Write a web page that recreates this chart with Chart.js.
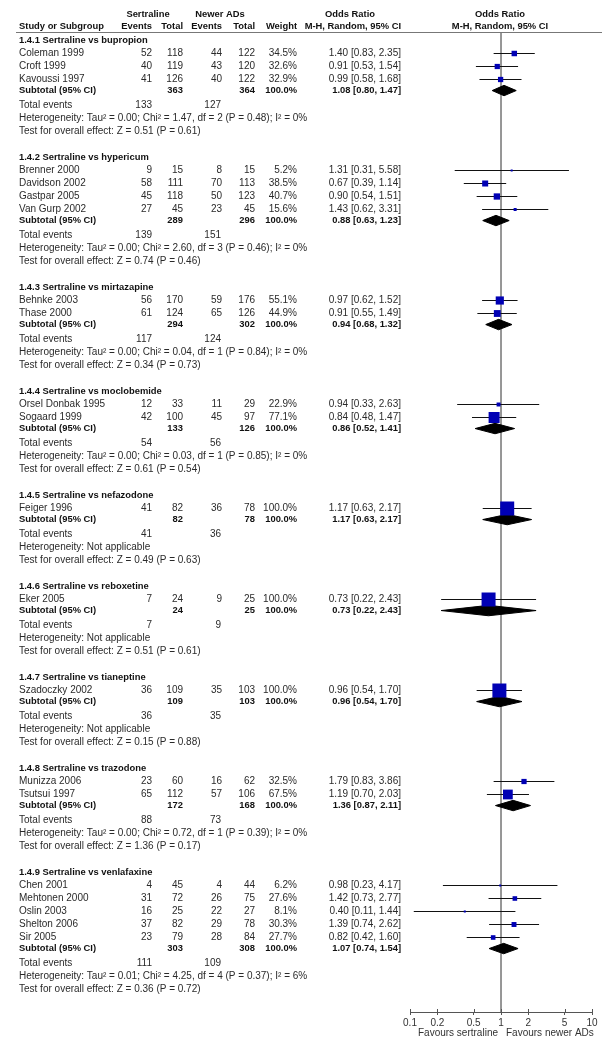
<!DOCTYPE html>
<html lang="en">

<head>
    <meta charset="UTF-8">
    <title>Sertraline vs newer ADs - forest plot</title>
    <script src="https://cdn.jsdelivr.net/npm/chart.js"></script>
    <style>
        html, body { margin: 0; padding: 0; background: #fff; }
        #wrap { position: relative; width: 610px; height: 1048px; }
    </style>
</head>

<body>
    <div id="wrap"><canvas id="forest"></canvas></div>

    <script>
        // subgroups
        const groupTitles = [
            "1.4.1 Sertraline vs bupropion", "1.4.2 Sertraline vs hypericum", "1.4.3 Sertraline vs mirtazapine",
            "1.4.4 Sertraline vs moclobemide", "1.4.5 Sertraline vs nefazodone", "1.4.6 Sertraline vs reboxetine",
            "1.4.7 Sertraline vs tianeptine", "1.4.8 Sertraline vs trazodone", "1.4.9 Sertraline vs venlafaxine"
        ];

        // one entry per study
        const studyNames = [
            "Coleman 1999", "Croft 1999", "Kavoussi 1997",
            "Brenner 2000", "Davidson 2002", "Gastpar 2005", "Van Gurp 2002",
            "Behnke 2003", "Thase 2000",
            "Orsel Donbak 1995", "Sogaard 1999",
            "Feiger 1996",
            "Eker 2005",
            "Szadoczky 2002",
            "Munizza 2006", "Tsutsui 1997",
            "Chen 2001", "Mehtonen 2000", "Oslin 2003", "Shelton 2006", "Sir 2005"
        ];
        const studyGroup = [0, 0, 0, 1, 1, 1, 1, 2, 2, 3, 3, 4, 5, 6, 7, 7, 8, 8, 8, 8, 8];
        const sertEvents = [52, 40, 41, 9, 58, 45, 27, 56, 61, 12, 42, 41, 7, 36, 23, 65, 4, 31, 16, 37, 23];
        const sertTotal = [118, 119, 126, 15, 111, 118, 45, 170, 124, 33, 100, 82, 24, 109, 60, 112, 45, 72, 25, 82, 79];
        const newEvents = [44, 43, 40, 8, 70, 50, 23, 59, 65, 11, 45, 36, 9, 35, 16, 57, 4, 26, 22, 29, 28];
        const newTotal = [122, 120, 122, 15, 113, 123, 45, 176, 126, 29, 97, 78, 25, 103, 62, 106, 44, 75, 27, 78, 84];
        const weights = [34.5, 32.6, 32.9, 5.2, 38.5, 40.7, 15.6, 55.1, 44.9, 22.9, 77.1, 100, 100, 100, 32.5, 67.5, 6.2, 27.6, 8.1, 30.3, 27.7];
        const oddsRatio = [1.40, 0.91, 0.99, 1.31, 0.67, 0.90, 1.43, 0.97, 0.91, 0.94, 0.84, 1.17, 0.73, 0.96, 1.79, 1.19, 0.98, 1.42, 0.40, 1.39, 0.82];
        const ciLow = [0.83, 0.53, 0.58, 0.31, 0.39, 0.54, 0.62, 0.62, 0.55, 0.33, 0.48, 0.63, 0.22, 0.54, 0.83, 0.70, 0.23, 0.73, 0.11, 0.74, 0.42];
        const ciHigh = [2.35, 1.54, 1.68, 5.58, 1.14, 1.51, 3.31, 1.52, 1.49, 2.63, 1.47, 2.17, 2.43, 1.70, 3.86, 2.03, 4.17, 2.77, 1.44, 2.62, 1.60];

        // subtotals per subgroup
        const subSertTotal = [363, 289, 294, 133, 82, 24, 109, 172, 303];
        const subNewTotal = [364, 296, 302, 126, 78, 25, 103, 168, 308];
        const subOR = [1.08, 0.88, 0.94, 0.86, 1.17, 0.73, 0.96, 1.36, 1.07];
        const subLow = [0.80, 0.63, 0.68, 0.52, 0.63, 0.22, 0.54, 0.87, 0.74];
        const subHigh = [1.47, 1.23, 1.32, 1.41, 2.17, 2.43, 1.70, 2.11, 1.54];
        const totSertEvents = [133, 139, 117, 54, 41, 7, 36, 88, 111];
        const totNewEvents = [127, 151, 124, 56, 36, 9, 35, 73, 109];
        const heterogeneity = [
            "Heterogeneity: Tau² = 0.00; Chi² = 1.47, df = 2 (P = 0.48); I² = 0%",
            "Heterogeneity: Tau² = 0.00; Chi² = 2.60, df = 3 (P = 0.46); I² = 0%",
            "Heterogeneity: Tau² = 0.00; Chi² = 0.04, df = 1 (P = 0.84); I² = 0%",
            "Heterogeneity: Tau² = 0.00; Chi² = 0.03, df = 1 (P = 0.85); I² = 0%",
            "Heterogeneity: Not applicable",
            "Heterogeneity: Not applicable",
            "Heterogeneity: Not applicable",
            "Heterogeneity: Tau² = 0.00; Chi² = 0.72, df = 1 (P = 0.39); I² = 0%",
            "Heterogeneity: Tau² = 0.01; Chi² = 4.25, df = 4 (P = 0.37); I² = 6%"
        ];
        const overallEffect = [
            "Test for overall effect: Z = 0.51 (P = 0.61)",
            "Test for overall effect: Z = 0.74 (P = 0.46)",
            "Test for overall effect: Z = 0.34 (P = 0.73)",
            "Test for overall effect: Z = 0.61 (P = 0.54)",
            "Test for overall effect: Z = 0.49 (P = 0.63)",
            "Test for overall effect: Z = 0.51 (P = 0.61)",
            "Test for overall effect: Z = 0.15 (P = 0.88)",
            "Test for overall effect: Z = 1.36 (P = 0.17)",
            "Test for overall effect: Z = 0.36 (P = 0.72)"
        ];

        const xTicks = [0.1, 0.2, 0.5, 1, 2, 5, 10];

        // row layout (one row = 13px)
        const studyRow = [];
        const headRow = [], subRow = [], totRow = [];
        let r = 0;
        groupTitles.forEach((t, g) => {
            headRow.push(r);
            studyGroup.forEach((sg, i) => { if (sg === g) { r++; studyRow[i] = r; } });
            subRow.push(r + 1 - 0.15);
            totRow.push(r + 2);
            r += 6;
        });
        const yMin = (32 - 40.5) / 13;
        const yMax = (1012 - 40.5) / 13;

        const FONT = "'Liberation Sans', Arial, sans-serif";
        const fmt = v => v.toFixed(2);
        const orText = (o, l, h) => `${fmt(o)} [${fmt(l)}, ${fmt(h)}]`;

        // datasets
        const datasets = [];
        datasets.push({
            data: oddsRatio.map((v, i) => ({ x: v, y: studyRow[i] })),
            pointStyle: "rect",
            pointRadius: weights.map(w => Math.max(2, 1 + 13 * w / 100) / Math.SQRT2),
            backgroundColor: "#0000b4",
            borderWidth: 0,
            showLine: false,
            order: 0
        });
        studyNames.forEach((n, i) => {
            datasets.push({
                data: [{ x: ciLow[i], y: studyRow[i] }, { x: ciHigh[i], y: studyRow[i] }],
                showLine: true, borderColor: "#111", borderWidth: 1, pointRadius: 0, order: 1
            });
        });
        groupTitles.forEach((t, g) => {
            const y = subRow[g];
            datasets.push({
                data: [
                    { x: subLow[g], y: y }, { x: subOR[g], y: y - 0.4 },
                    { x: subHigh[g], y: y }, { x: subOR[g], y: y + 0.4 }, { x: subLow[g], y: y }
                ],
                showLine: true, fill: "shape", backgroundColor: "#000", borderColor: "#000",
                borderWidth: 1, pointRadius: 0, tension: 0, order: 1
            });
        });
        datasets.push({
            data: [{ x: 1, y: yMin }, { x: 1, y: yMax }],
            showLine: true, borderColor: "#888", borderWidth: 1, pointRadius: 0, order: 2
        });

        // table text drawn beside the plot
        const tablePlugin = {
            id: "tableText",
            afterDraw(chart) {
                const ctx = chart.ctx;
                const ys = chart.scales.y;
                const xs = chart.scales.x;
                const py = row => ys.getPixelForValue(row);
                ctx.save();
                ctx.textBaseline = "middle";
                const txt = (s, x, y, align, bold) => {
                    ctx.font = (bold ? "bold 9.4px " : "10px ") + FONT;
                    ctx.fillStyle = bold ? "#111" : "#2a2a2a";
                    ctx.textAlign = align;
                    ctx.fillText(s, x, y);
                };

                // header
                txt("Sertraline", 148, 14, "center", true);
                txt("Newer ADs", 220, 14, "center", true);
                txt("Odds Ratio", 350, 14, "center", true);
                txt("Odds Ratio", 500, 14, "center", true);
                txt("Study or Subgroup", 19, 26, "left", true);
                txt("Events", 152, 26, "right", true);
                txt("Total", 183, 26, "right", true);
                txt("Events", 222, 26, "right", true);
                txt("Total", 255, 26, "right", true);
                txt("Weight", 297, 26, "right", true);
                txt("M-H, Random, 95% CI", 401, 26, "right", true);
                txt("M-H, Random, 95% CI", 500, 26, "center", true);
                ctx.strokeStyle = "#777";
                ctx.lineWidth = 1;
                ctx.beginPath();
                ctx.moveTo(16, 32.5);
                ctx.lineTo(602, 32.5);
                ctx.stroke();

                // studies
                studyNames.forEach((n, i) => {
                    const y = py(studyRow[i]);
                    txt(n, 19, y, "left");
                    txt(String(sertEvents[i]), 152, y, "right");
                    txt(String(sertTotal[i]), 183, y, "right");
                    txt(String(newEvents[i]), 222, y, "right");
                    txt(String(newTotal[i]), 255, y, "right");
                    txt(weights[i].toFixed(1) + "%", 297, y, "right");
                    txt(orText(oddsRatio[i], ciLow[i], ciHigh[i]), 401, y, "right");
                });

                // subgroups
                groupTitles.forEach((t, g) => {
                    txt(t, 19, py(headRow[g]), "left", true);
                    const ys2 = py(subRow[g]);
                    txt("Subtotal (95% CI)", 19, ys2, "left", true);
                    txt(String(subSertTotal[g]), 183, ys2, "right", true);
                    txt(String(subNewTotal[g]), 255, ys2, "right", true);
                    txt("100.0%", 297, ys2, "right", true);
                    txt(orText(subOR[g], subLow[g], subHigh[g]), 401, ys2, "right", true);
                    const yt = py(totRow[g]);
                    txt("Total events", 19, yt, "left");
                    txt(String(totSertEvents[g]), 152, yt, "right");
                    txt(String(totNewEvents[g]), 221, yt, "right");
                    txt(heterogeneity[g], 19, py(totRow[g] + 1), "left");
                    txt(overallEffect[g], 19, py(totRow[g] + 2), "left");
                });

                // upper half of the axis tick marks (they cross the axis line)
                const axisY = chart.chartArea.bottom;
                ctx.strokeStyle = "#555";
                ctx.beginPath();
                xTicks.forEach(v => {
                    const x = Math.round(xs.getPixelForValue(v)) + 0.5;
                    ctx.moveTo(x, axisY - 3);
                    ctx.lineTo(x, axisY);
                });
                ctx.stroke();

                // favours labels
                const x1 = xs.getPixelForValue(1);
                ctx.font = "10px " + FONT;
                ctx.fillStyle = "#333";
                ctx.textAlign = "right";
                ctx.fillText("Favours sertraline", x1 - 3, 1033);
                ctx.textAlign = "left";
                ctx.fillText("Favours newer ADs", x1 + 5, 1033);
                ctx.restore();
            }
        };

        new Chart(document.getElementById("forest"), {
            type: "scatter",
            data: { datasets: datasets },
            options: {
                responsive: true,
                maintainAspectRatio: false,
                animation: false,
                events: [],
                layout: { padding: { left: 410, right: 18, top: 32, bottom: 0 } },
                plugins: { legend: { display: false }, tooltip: { enabled: false } },
                scales: {
                    x: {
                        type: "logarithmic",
                        min: 0.1,
                        max: 10,
                        afterBuildTicks: s => { s.ticks = xTicks.map(v => ({ value: v })); },
                        afterFit: s => { s.height = 36; },
                        ticks: {
                            autoSkip: false,
                            maxRotation: 0,
                            padding: 2,
                            color: "#333",
                            font: { family: FONT, size: 10 },
                            callback: v => String(v)
                        },
                        grid: { drawOnChartArea: false, drawTicks: true, tickLength: 3, color: "#555" },
                        border: { color: "#555" }
                    },
                    y: { type: "linear", reverse: true, min: yMin, max: yMax, display: false }
                }
            },
            plugins: [tablePlugin]
        });
    </script>

</body>

</html>
